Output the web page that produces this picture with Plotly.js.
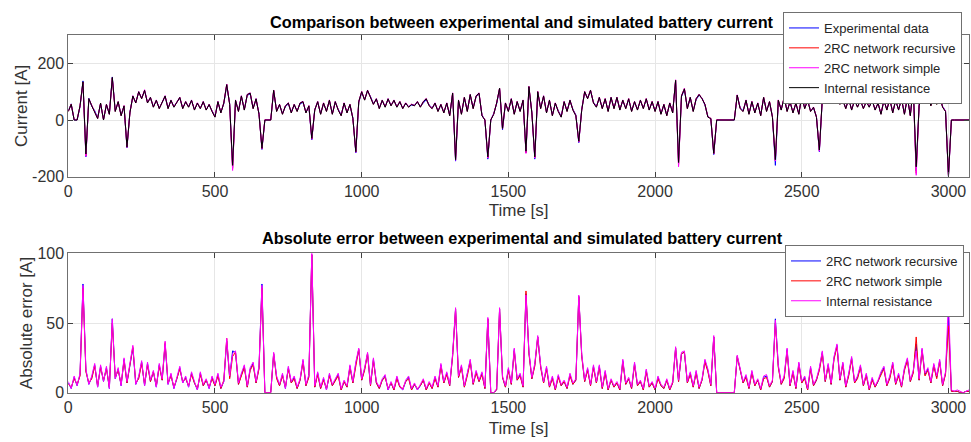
<!DOCTYPE html>
<html>
<head>
<meta charset="utf-8">
<script src="https://cdn.plot.ly/plotly-3.0.1.min.js"></script>
<style>html,body{margin:0;padding:0;background:#fff;}#chart{width:971px;height:442px;}</style>
</head>
<body>
<div id="chart"></div>
<script>
// sampling of all series: first sample time and step [s]
const timeStart = 0;
const timeStep = 10;
const timeTicks = [0, 500, 1000, 1500, 2000, 2500, 3000];
const timeTickText = ['0', '500', '1000', '1500', '2000', '2500', '3000'];
const currentTicks = [-200, 0, 200];
const currentTickText = ['-200', '0', '200'];
const errorTicks = [0, 50, 100];
const errorTickText = ['0', '50', '100'];

// ---- battery current [A], one value every 10 s ----
const expCurrent = [
33,57,0,0,47,138,-130,77,48,33, 8,57,2,53,23,152,33,62,18,48,
-98,28,82,63,97,78,102,63,77,48, 67,43,62,82,43,67,48,62,77,43,
62,48,67,38,57,43,62,38,52,33, 13,62,28,57,122,58,-168,67,33,82,
38,87,92,43,72,23,-104,0,0,0, 102,33,52,23,47,57,28,52,33,57,
62,28,47,-70,38,62,23,57,33,67, 23,62,38,18,57,28,52,8,-116,62,
97,73,102,83,58,72,43,67,48,72, 53,67,48,62,43,57,48,52,53,62,
48,62,72,53,43,57,33,52,28,57, 18,92,-145,67,23,77,33,87,43,82,
92,18,0,-138,0,23,57,110,-35,57, 33,72,23,62,33,67,-115,115,28,-138,
97,43,82,28,67,18,57,33,13,62, 33,67,38,18,-80,38,97,78,102,63,
48,77,43,72,33,77,43,77,38,67, 43,72,33,62,38,67,43,72,38,62,
33,62,23,52,18,57,28,138,-155,82, 107,43,77,33,72,87,78,52,13,5,
-122,0,0,0,0,0,0,0,86,43, 33,67,23,62,28,57,18,77,33,62,
13,-160,67,38,77,33,62,28,57,23, 82,43,67,33,42,12,-112,72,102,83,
92,63,72,58,67,43,72,38,67,48, 67,43,62,48,67,38,57,23,67,38,
72,28,67,38,72,23,77,18,112,-180, 53,97,63,87,53,92,58,82,48,32,
-200,0,0,0,0,0,0,0
];
const rcRecursiveCurrent = [
31,56,1,1,50,134,-127,75,51,31, 6,59,1,55,21,149,31,64,16,50,
-96,26,84,61,99,76,104,61,79,46, 69,41,65,84,41,69,46,65,79,41,
64,46,69,36,60,41,64,36,55,31, 11,64,26,60,126,56,-172,69,31,84,
36,89,95,41,74,21,-101,1,0,0, 105,31,55,21,50,60,26,55,31,60,
64,26,50,-67,36,64,21,60,31,69, 21,64,36,16,60,26,55,6,-113,64,
100,71,104,81,56,74,41,69,46,74, 51,69,46,65,41,60,46,55,51,64,
46,64,75,51,41,60,31,55,26,60, 16,95,-141,69,21,80,31,89,41,84,
94,16,1,-133,1,21,60,112,-31,60, 31,74,21,65,31,69,-116,118,26,-133,
100,41,84,26,69,16,60,31,11,64, 31,69,36,16,-77,36,100,76,105,61,
46,79,41,75,31,79,41,80,36,70, 41,75,31,65,36,70,41,75,36,65,
31,65,21,55,16,60,26,141,-160,85, 111,41,80,31,75,90,76,55,11,6,
-119,1,0,0,0,0,0,1,88,41, 31,70,21,65,26,60,16,80,31,65,
11,-143,70,36,80,31,65,26,60,21, 85,41,70,31,45,11,-108,75,106,81,
95,61,75,56,70,41,75,36,70,46, 70,41,65,46,70,36,60,21,70,36,
75,26,70,36,75,21,80,16,116,-188, 52,101,61,91,51,96,56,86,46,31,
-197,0,0,0,0,0,0,0
];
const rcSimpleCurrent = [
31,54,2,1,49,133,-128,74,52,31, 6,59,1,56,20,148,31,65,16,51,
-96,26,86,61,101,76,107,61,81,46, 71,41,66,86,41,71,46,66,81,41,
66,46,71,36,61,41,66,36,56,31, 11,66,26,61,127,56,-178,71,31,86,
36,91,96,41,76,21,-102,1,0,1, 106,31,56,21,51,61,26,56,31,61,
66,26,51,-68,36,66,21,61,31,71, 21,66,36,16,61,26,56,6,-114,66,
101,71,106,81,56,76,41,71,46,76, 51,71,46,66,41,61,46,56,51,66,
46,66,76,51,41,61,31,56,26,61, 16,96,-142,71,21,81,31,91,41,86,
96,16,1,-134,1,21,61,113,-32,61, 31,76,21,66,31,71,-118,119,26,-134,
101,41,86,26,71,16,61,31,11,66, 31,71,36,16,-78,36,101,76,106,61,
46,81,41,76,31,81,41,81,36,71, 41,76,31,66,36,71,41,76,36,66,
31,66,21,56,16,61,26,142,-165,86, 112,41,81,31,76,91,76,56,11,6,
-120,1,0,1,0,1,0,1,89,41, 31,71,21,66,26,61,16,81,31,66,
11,-145,71,36,81,31,66,26,61,21, 86,41,71,31,46,11,-110,76,107,81,
96,61,76,56,71,41,76,36,71,46, 71,41,66,46,71,36,61,21,71,36,
76,26,71,36,76,21,81,16,118,-195, 53,104,62,95,52,99,57,89,47,31,
-198,0,0,0,0,0,0,0
];
const irCurrent = [
30,55,0,0,50,135,-120,75,50,30, 5,60,0,55,20,150,30,65,15,50,
-95,25,85,60,100,75,105,60,80,45, 70,40,65,85,40,70,45,65,80,40,
65,45,70,35,60,40,65,35,55,30, 10,65,25,60,125,55,-160,70,30,85,
35,90,95,40,75,20,-100,0,0,0, 105,30,55,20,50,60,25,55,30,60,
65,25,50,-65,35,65,20,60,30,70, 20,65,35,15,60,25,55,5,-112,65,
100,70,105,80,55,75,40,70,45,75, 50,70,45,65,40,60,45,55,50,65,
45,65,75,50,40,60,30,55,25,60, 15,95,-140,70,20,80,30,90,40,85,
95,15,0,-130,0,20,60,112,-30,60, 30,75,20,65,30,70,-110,118,25,-130,
100,40,85,25,70,15,60,30,10,65, 30,70,35,15,-75,35,100,75,105,60,
45,80,40,75,30,80,40,80,35,70, 40,75,30,65,35,70,40,75,35,65,
30,65,20,55,15,60,25,140,-150,85, 110,40,80,30,75,90,75,55,10,5,
-118,0,0,0,0,0,0,0,88,40, 30,70,20,65,25,60,15,80,30,65,
10,-140,70,35,80,30,65,25,60,20, 85,40,70,30,45,10,-106,75,105,80,
95,60,75,55,70,40,75,35,70,45, 70,40,65,45,70,35,60,20,70,35,
75,25,70,35,75,20,80,15,115,-165, 50,100,60,90,50,95,55,85,45,30,
-195,0,0,0,0,0,0,0
];

// ---- absolute error [A], one value every 10 s ----
const errRecursive = [
7,3,11,5,13,78,16,6,11,20, 4,19,8,18,3,53,10,17,5,24,
7,20,32,6,11,22,5,21,8,15, 4,20,9,35,6,13,3,10,18,7,
11,4,14,7,2,14,5,9,3,11, 5,13,3,8,37,11,30,29,6,13,
19,4,17,21,7,18,78,0,0,0, 28,11,5,13,3,18,7,11,3,9,
23,5,12,99,4,14,3,10,2,13, 5,9,13,2,8,4,19,7,21,31,
9,17,28,5,24,7,3,9,12,2, 7,2,11,4,2,8,11,2,6,2,
5,9,2,7,3,11,4,20,7,14, 5,27,60,11,19,4,13,23,6,15,
8,14,3,53,0,0,2,60,11,4, 17,6,31,9,13,4,71,29,10,20,
40,19,7,18,4,11,2,12,5,8, 3,13,6,9,69,27,8,17,5,19,
7,19,3,15,2,9,4,7,2,23, 6,10,3,21,5,8,2,16,4,7,
2,11,5,3,9,2,7,32,8,28, 29,7,14,4,15,3,9,23,16,5,
40,0,0,0,0,0,0,0,26,17, 7,12,3,15,5,9,2,11,12,4,
8,53,19,6,11,31,5,15,3,21, 7,11,2,18,5,9,17,29,8,20,
6,25,34,9,21,4,13,25,7,11, 19,5,13,2,10,4,8,14,18,5,
11,21,6,13,4,17,24,8,15,35, 9,31,13,17,7,20,11,23,5,14,
55,1,1,1,0,0,1,1
];
const errSimple = [
6,4,10,6,12,75,15,7,10,19, 5,18,9,17,4,50,11,16,6,23,
7,19,33,7,10,21,6,20,8,15, 5,19,9,36,7,12,4,10,17,8,
10,5,13,7,3,13,5,9,4,10, 5,12,3,9,39,10,26,29,6,12,
18,4,16,20,7,17,75,0,0,0, 28,10,5,12,4,17,7,10,3,9,
22,5,11,99,4,13,3,9,3,12, 5,9,12,2,8,4,18,7,20,31,
9,16,28,5,23,7,3,9,11,3, 7,2,10,4,3,8,10,2,6,3,
5,9,2,7,3,10,4,19,7,13, 5,26,60,11,18,4,12,22,6,14,
8,13,3,53,0,0,2,60,11,4, 16,6,30,9,12,4,73,28,10,19,
40,18,7,17,4,10,2,11,5,8, 3,12,6,9,69,26,8,16,5,18,
7,18,3,14,2,9,4,7,2,22, 6,10,3,20,5,8,2,15,4,7,
2,10,5,3,9,2,7,32,8,28, 29,7,13,4,14,3,9,22,15,5,
40,0,0,0,0,0,0,0,26,16, 7,11,3,14,5,9,2,10,11,4,
8,50,18,6,10,30,5,14,3,20, 7,10,2,17,5,9,16,28,8,19,
6,24,33,9,20,4,12,24,7,10, 18,5,12,2,9,4,8,13,17,5,
10,20,6,12,4,16,23,8,14,40, 9,30,12,16,7,19,10,22,5,13,
48,1,1,1,0,0,1,1
];
const errInternal = [
8,3,12,5,14,77,17,6,12,21, 4,20,8,19,3,53,10,18,5,25,
8,21,34,6,12,23,5,22,9,16, 4,21,10,37,6,14,3,11,19,7,
12,4,15,8,2,15,6,10,3,12, 6,14,4,8,39,12,28,30,7,14,
20,5,18,22,8,19,77,0,0,0, 29,12,6,14,3,19,8,12,4,10,
24,6,13,100,5,15,4,11,2,14, 6,10,14,3,9,5,20,8,22,32,
10,18,29,6,25,8,4,10,13,2, 8,3,12,5,2,9,12,3,7,2,
6,10,3,8,4,12,5,21,8,15, 6,28,61,12,20,5,14,24,7,16,
9,15,4,54,0,0,3,61,12,5, 18,7,32,10,14,5,70,30,11,21,
41,20,8,19,5,12,3,13,6,9, 4,14,7,10,70,28,9,18,6,20,
8,20,4,16,3,10,5,8,3,24, 7,11,4,22,6,9,3,17,5,8,
3,12,6,4,10,3,8,33,9,29, 30,8,15,5,16,4,10,24,17,6,
41,0,0,0,0,0,0,0,27,18, 8,13,4,16,6,10,3,12,13,5,
9,52,20,7,12,32,6,16,4,22, 8,12,3,19,6,10,18,30,9,21,
7,26,35,10,22,5,14,26,8,12, 20,6,14,3,11,5,9,15,19,6,
12,22,7,14,5,18,25,9,16,30, 10,32,14,18,8,21,12,24,6,15,
66,2,1,2,1,0,1,2
];

const BLUE = '#0000ff', RED = '#ff0000', MAG = '#ff00ff', BLK = '#000000';
function tr(y, name, color, xa, ya, leg) {
  return {type: 'scatter', mode: 'lines', x0: timeStart, dx: timeStep, y: y, name: name,
    xaxis: xa, yaxis: ya, legend: leg, line: {color: color, width: 1}, hoverinfo: 'skip'};
}
const data = [
  tr(expCurrent, 'Experimental data', BLUE, 'x', 'y', 'legend'),
  tr(rcRecursiveCurrent, '2RC network recursive', RED, 'x', 'y', 'legend'),
  tr(rcSimpleCurrent, '2RC network simple', MAG, 'x', 'y', 'legend'),
  tr(irCurrent, 'Internal resistance', BLK, 'x', 'y', 'legend'),
  tr(errRecursive, '2RC network recursive', BLUE, 'x2', 'y2', 'legend2'),
  tr(errSimple, '2RC network simple', RED, 'x2', 'y2', 'legend2'),
  tr(errInternal, 'Internal resistance', MAG, 'x2', 'y2', 'legend2')
];

const FONT = 'Liberation Sans, Arial, Helvetica, sans-serif';
const axisCommon = {
  showline: true, mirror: 'ticks', linecolor: '#707070', linewidth: 1,
  ticks: 'inside', ticklen: 5, tickcolor: '#404040',
  showgrid: true, gridcolor: '#e6e6e6', zeroline: false,
  tickfont: {family: FONT, size: 16, color: '#333333'}, automargin: false
};
const W = 971, H = 442;
const xdom = [68.3 / W, 969 / W];
const titleFont = {family: FONT, size: 17, color: '#333333'};
const legendFont = {family: FONT, size: 13, color: '#262626'};
const layout = {
  width: W, height: H, margin: {l: 0, r: 0, t: 0, b: 0},
  paper_bgcolor: '#ffffff', plot_bgcolor: '#ffffff',
  font: {family: FONT, color: '#262626'},
  showlegend: true,
  xaxis: Object.assign({}, axisCommon, {domain: xdom, anchor: 'y', range: [0, 3070],
    tickvals: timeTicks, ticktext: timeTickText,
    title: {text: 'Time [s]', font: titleFont, standoff: 5}}),
  yaxis: Object.assign({}, axisCommon, {domain: [1 - 176.7 / H, 1 - 35 / H], anchor: 'x', range: [-200, 300],
    tickvals: currentTicks, ticktext: currentTickText,
    title: {text: 'Current [A]', font: titleFont, standoff: 0}}),
  xaxis2: Object.assign({}, axisCommon, {domain: xdom, anchor: 'y2', range: [0, 3070],
    tickvals: timeTicks, ticktext: timeTickText,
    title: {text: 'Time [s]', font: titleFont, standoff: 7}}),
  yaxis2: Object.assign({}, axisCommon, {domain: [1 - 392.7 / H, 1 - 253.3 / H], anchor: 'x2', range: [0, 100],
    tickvals: errorTicks, ticktext: errorTickText,
    title: {text: 'Absolute error [A]', font: titleFont, standoff: 0}}),
  legend: {x: 783 / W, y: 1 - 12 / H, xanchor: 'left', yanchor: 'top', bgcolor: '#ffffff',
    bordercolor: '#707070', borderwidth: 1, font: legendFont},
  legend2: {x: 785 / W, y: 1 - 245 / H, xanchor: 'left', yanchor: 'top', bgcolor: '#ffffff',
    bordercolor: '#707070', borderwidth: 1, font: legendFont},
  annotations: [
    {text: '<b>Comparison between experimental and simulated battery current</b>', xref: 'paper', yref: 'paper',
     x: 522 / W, y: 1 - 22 / H, xanchor: 'center', yanchor: 'middle', showarrow: false,
     font: {family: FONT, size: 16.3, color: '#000000'}},
    {text: '<b>Absolute error between experimental and simulated battery current</b>', xref: 'paper', yref: 'paper',
     x: 522 / W, y: 1 - 238 / H, xanchor: 'center', yanchor: 'middle', showarrow: false,
     font: {family: FONT, size: 16.3, color: '#000000'}}
  ]
};
Plotly.newPlot('chart', data, layout, {displayModeBar: false, staticPlot: true});
</script>
</body>
</html>
